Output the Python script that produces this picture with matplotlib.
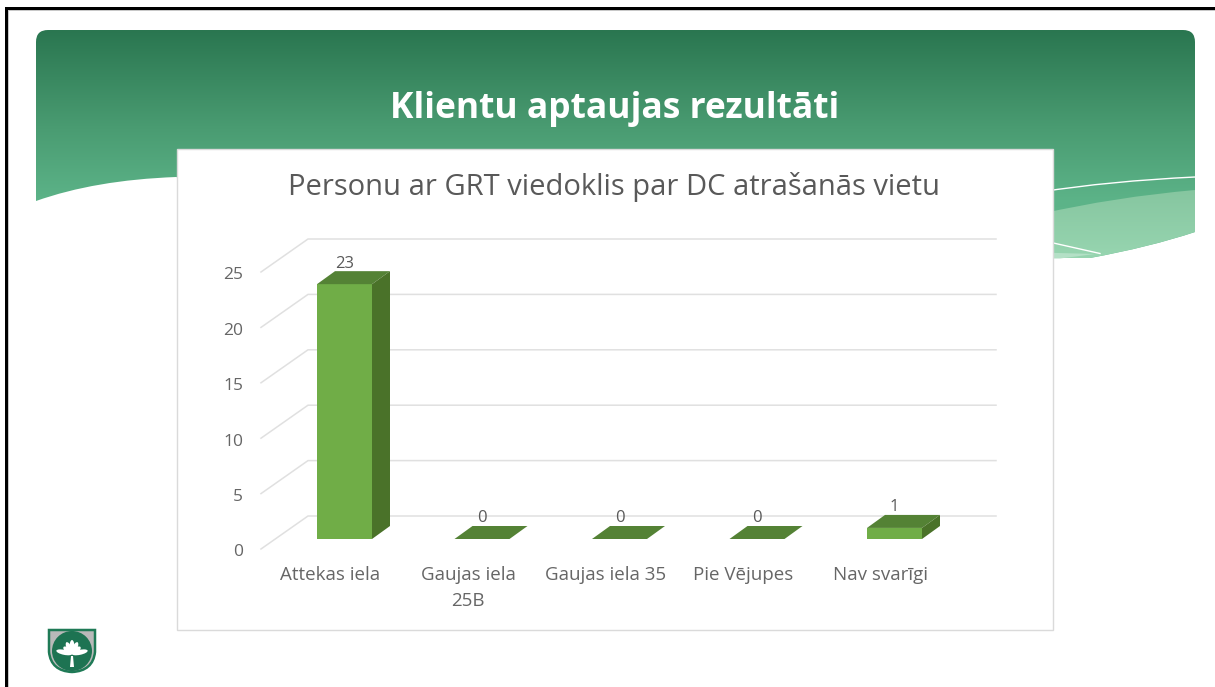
import matplotlib
matplotlib.use("Agg")
import matplotlib.pyplot as plt
import numpy as np
from matplotlib.colors import LinearSegmentedColormap
from matplotlib.patches import Circle, Ellipse, PathPatch, Polygon, Rectangle
from matplotlib.path import Path

W, H = 1215, 687

categories = ["Attekas iela", "Gaujas iela\n25B", "Gaujas iela 35", "Pie Vējupes", "Nav svarīgi"]
values = [23, 0, 0, 0, 1]
y_ticks = [0, 5, 10, 15, 20, 25]

slide_title = "Klientu aptaujas rezultāti"
chart_title = "Personu ar GRT viedoklis par DC atrašanās vietu"

TEXT = "#666666"
GRID = "#e0e0e0"
FRONT = "#70ad47"
SIDE = "#4a7229"
TOP = "#548235"

plt.rcParams["font.family"] = ["Open Sans", "DejaVu Sans"]

fig = plt.figure(figsize=(W / 100, H / 100), dpi=100, facecolor="white")

# slide background, drawn in pixel coordinates
bg = fig.add_axes([0, 0, 1, 1], zorder=0)
bg.set_xlim(0, W)
bg.set_ylim(H, 0)
bg.axis("off")

bg.add_patch(Rectangle((5, 7), W - 5, 3, color="black", lw=0))
bg.add_patch(Rectangle((5, 7), 3, H - 7, color="black", lw=0))
bg.add_patch(Rectangle((8, 10), W - 8, 1, color="#c8c8c8", lw=0))
bg.add_patch(Rectangle((8, 10), 1, H - 10, color="#c8c8c8", lw=0))

header_verts = [
    (36, 201), (36, 42), (36, 30), (48, 30), (1183, 30), (1195, 30), (1195, 42),
    (1195, 232), (1150, 247), (1090, 258), (1054, 258), (500, 258), (176, 177), (95, 180), (36, 201),
]
header_codes = [
    Path.MOVETO, Path.LINETO, Path.CURVE3, Path.CURVE3, Path.LINETO, Path.CURVE3, Path.CURVE3,
    Path.LINETO, Path.CURVE3, Path.CURVE3, Path.LINETO, Path.LINETO, Path.LINETO, Path.CURVE3, Path.CURVE3,
]
header = PathPatch(Path(header_verts, header_codes), fc="none", ec="none")
bg.add_patch(header)
cmap = LinearSegmentedColormap.from_list(
    "hdr", [(0, "#2a7650"), (0.43, "#4a9c72"), (0.74, "#5cb388"), (1, "#64bb90")])
grad = bg.imshow(np.linspace(0, 1, 256).reshape(-1, 1), cmap=cmap, extent=(36, 1195, 260, 30),
                 aspect="auto", zorder=1)
bg.set_xlim(0, W)
bg.set_ylim(H, 0)
grad.set_clip_path(header)

# light band on the right of the header
band = PathPatch(Path(
    [(1040, 214), (1115, 197), (1195, 190), (1195, 232), (1150, 247), (1090, 258), (1040, 258), (1040, 214)],
    [Path.MOVETO, Path.CURVE3, Path.CURVE3, Path.LINETO, Path.CURVE3, Path.CURVE3, Path.LINETO, Path.CLOSEPOLY],
), fc="none", ec="none")
bg.add_patch(band)
cmap_band = LinearSegmentedColormap.from_list("band", ["#86c6a0", "#97d5b0"])
grad_band = bg.imshow(np.linspace(0, 1, 64).reshape(-1, 1), cmap=cmap_band, extent=(1040, 1195, 258, 190),
                      aspect="auto", zorder=2)
bg.set_xlim(0, W)
bg.set_ylim(H, 0)
grad_band.set_clip_path(band)
bg.add_patch(Polygon([(1040, 252.5), (1095, 254), (1060, 258.5), (1040, 258.5)], fc="#b4e0c6", ec="none", zorder=3))
bg.plot([1040, 1100], [240, 253.5], color="white", lw=1, zorder=4)
bg.add_patch(PathPatch(Path([(1040, 192), (1110, 181), (1195, 177)], [Path.MOVETO, Path.CURVE3, Path.CURVE3]),
                       fc="none", ec="white", lw=1, zorder=4))

bg.text(615, 109, slide_title, color="white", fontsize=25.5, fontweight="bold",
        ha="center", va="center", zorder=5)

# chart panel
bg.add_patch(Rectangle((177, 149), 876, 481, fc="white", ec="#dadada", lw=1, zorder=6))
bg.text(614, 187, chart_title, color="#595959", fontsize=21, ha="center", va="center", zorder=7)

# logo
shield = PathPatch(Path(
    [(49, 630), (95, 630), (95, 652), (93, 671), (72, 672), (51, 671), (49, 652), (49, 630)],
    [Path.MOVETO, Path.LINETO, Path.LINETO, Path.CURVE3, Path.CURVE3, Path.CURVE3, Path.CURVE3, Path.CLOSEPOLY],
), fc="#b9b9b9", ec="#1f7a56", lw=1.8, zorder=6)
bg.add_patch(shield)
bg.add_patch(Circle((72, 651), 20, fc="#1d7352", ec="none", zorder=7))
for ang, length in [(-50, 11), (-25, 13), (0, 14), (25, 13), (50, 11)]:
    bg.add_patch(Ellipse((72 + np.sin(np.radians(ang)) * length / 2, 654 - np.cos(np.radians(ang)) * length / 2),
                         5, length, angle=ang, fc="white", ec="none", zorder=8))
for ang in (-78, 78):
    bg.add_patch(Ellipse((72 + np.sin(np.radians(ang)) * 8, 654 - np.cos(np.radians(ang)) * 8),
                         5, 16, angle=ang, fc="white", ec="none", zorder=8))
bg.add_patch(Polygon([(71, 656), (73, 656), (74, 667), (70, 667)], fc="white", ec="none", zorder=8))

# chart axes: x is the category index, y the value on the front plane of the bars
PX_X = 137.5
PX_Y = 11.08
left = 344.5 - 0.5 * PX_X
bottom = H - 539
ax = fig.add_axes([left / W, bottom / H, 5 * PX_X / W, 25 * PX_Y / H], zorder=2)
ax.set_xlim(-0.5, 4.5)
ax.set_ylim(0, 25)
ax.patch.set_alpha(0)
ax.axis("off")

x = np.arange(len(categories))
bar_w = 55 / PX_X
depth_x = 18 / PX_X
depth_y = 13 / PX_Y
wall_y = 23 / PX_Y
wall_x0 = (308 - 344.5) / PX_X
wall_x1 = (996 - 344.5) / PX_X
front_x0 = (261 - 344.5) / PX_X
front_y = -10 / PX_Y
label_y = -27.5 / PX_Y

for t in y_ticks:
    ax.plot([front_x0, wall_x0, wall_x1], [t + front_y, t + wall_y, t + wall_y],
            color=GRID, lw=1.1, clip_on=False, zorder=1, solid_joinstyle="miter")
    ax.text(front_x0 - 18 / PX_X, t + front_y - 0.3, str(t), color=TEXT, fontsize=12.5,
            ha="right", va="center", clip_on=False)

ax.bar(x, values, width=bar_w, color=FRONT, clip_on=False, zorder=3)
for xi, v in zip(x, values):
    x0, x1 = xi - bar_w / 2, xi + bar_w / 2
    ax.add_patch(Polygon([(x0, v), (x1, v), (x1 + depth_x, v + depth_y), (x0 + depth_x, v + depth_y)],
                         fc=TOP, ec="none", clip_on=False, zorder=3))
    if v > 0:
        ax.add_patch(Polygon([(x1, 0), (x1 + depth_x, depth_y), (x1 + depth_x, v + depth_y), (x1, v)],
                             fc=SIDE, ec="none", clip_on=False, zorder=3))
    ax.text(xi, v + 20.5 / PX_Y, str(v), color="#595959", fontsize=12, ha="center", va="center",
            clip_on=False, zorder=4)

for xi, name in zip(x, categories):
    ax.text(xi - 14 / PX_X, label_y, name, color=TEXT, fontsize=13.5, ha="center", va="top",
            linespacing=1.5, clip_on=False)

fig.savefig("out.png", dpi=100)
